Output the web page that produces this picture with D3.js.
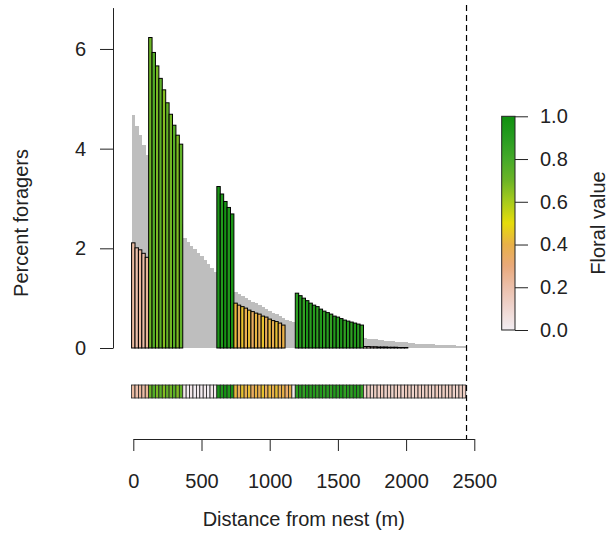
<!DOCTYPE html>
<html>
<head>
<meta charset="utf-8">
<script src="https://cdn.jsdelivr.net/npm/d3@7"></script>
<style>
  html, body { margin: 0; padding: 0; background: #fff; }
  svg { display: block; font-family: "Liberation Sans", Arial, sans-serif; }
  text { fill: #222; }
</style>
</head>
<body>
<svg id="chart" width="610" height="537"></svg>
<script>
// Distance bins (m), 25 m wide, bin centres
const distance = d3.range(0, 2450, 25);

// Percent of foragers visiting each distance bin
const foragers = [
  2.11, 2.01, 1.97, 1.90, 1.82,
  6.23, 5.93, 5.66, 5.41, 5.18, 4.92, 4.69, 4.47, 4.27, 4.09,
  0, 0, 0, 0, 0, 0, 0, 0, 0, 0,
  3.24, 3.09, 2.94, 2.82, 2.69,
  0.90, 0.86, 0.83, 0.80, 0.76, 0.73, 0.70, 0.68, 0.64, 0.62, 0.58, 0.55, 0.53, 0.50, 0.46,
  0, 0, 0,
  1.10, 1.05, 1.00, 0.95, 0.90, 0.86, 0.83, 0.78, 0.74, 0.71, 0.68, 0.64, 0.62, 0.59, 0.56, 0.54, 0.52, 0.50, 0.48, 0.46,
  0.03, 0.03, 0.025, 0.025, 0.02, 0.02, 0.02, 0.015, 0.015, 0.015, 0.01, 0.01, 0.01,
  0, 0, 0, 0, 0, 0, 0, 0, 0, 0, 0, 0, 0, 0, 0, 0, 0
];

// Reference distribution (grey) for the same bins
const reference = [
  4.68, 4.45, 4.27, 4.07, 3.87,
  3.70, 3.55, 3.40, 3.26, 3.12, 2.98, 2.85, 2.72, 2.60, 2.48,
  2.20, 2.12, 2.05, 1.98, 1.91, 1.84, 1.76, 1.68, 1.60, 1.52,
  1.45, 1.38, 1.31, 1.25, 1.19,
  1.13, 1.09, 1.05, 1.01, 0.97, 0.93, 0.90, 0.86, 0.82, 0.79, 0.75, 0.71, 0.68, 0.64, 0.60,
  0.57, 0.55, 0.53,
  0.51, 0.49, 0.47, 0.45, 0.43, 0.41, 0.40, 0.38, 0.36, 0.35, 0.33, 0.32, 0.30, 0.29, 0.28, 0.26, 0.25, 0.24, 0.23, 0.22,
  0.20, 0.19, 0.19, 0.18, 0.17, 0.17, 0.15, 0.14, 0.14, 0.13, 0.13, 0.12, 0.12,
  0.10, 0.10, 0.09, 0.09, 0.09, 0.08, 0.08, 0.08, 0.07, 0.07, 0.07, 0.06, 0.06, 0.06, 0.05, 0.05, 0.05
];

// Floral value of the landscape cell in each bin
const floral = [
  0.22, 0.20, 0.23, 0.21, 0.24,
  0.70, 0.76, 0.68, 0.74, 0.66, 0.72, 0.69, 0.75, 0.67, 0.73,
  0.02, 0.01, 0.03, 0.00, 0.02, 0.01, 0.02, 0.00, 0.03, 0.02,
  0.95, 0.92, 0.97, 0.93, 0.96,
  0.42, 0.36, 0.44, 0.38, 0.43, 0.35, 0.41, 0.37, 0.44, 0.36, 0.42, 0.38, 0.43, 0.37, 0.40,
  0.33, 0.39, 0.02,
  0.88, 0.92, 0.86, 0.94, 0.89, 0.91, 0.87, 0.93, 0.88, 0.90, 0.86, 0.92, 0.89, 0.94, 0.87, 0.91, 0.88, 0.93, 0.90, 0.86,
  0.12, 0.15, 0.11, 0.14, 0.13, 0.16, 0.12, 0.14, 0.11, 0.15, 0.13, 0.12, 0.16,
  0.14, 0.11, 0.13, 0.15, 0.12, 0.14, 0.13, 0.11, 0.16, 0.12, 0.14, 0.13, 0.15, 0.12, 0.11, 0.14, 0.13
];

const maxRange = 2443;               // maximum foraging distance (dashed line)
const xTicks = [0, 500, 1000, 1500, 2000, 2500];
const yTicks = [0, 2, 4, 6];
const legendTicks = [0, 0.2, 0.4, 0.6, 0.8, 1.0];

// Colour ramp for floral value
const rampStops = [0, 0.1, 0.2, 0.3, 0.4, 0.5, 0.6, 0.7, 0.8, 0.9, 1.0];
const rampColors = ["#f3eef3", "#efd6d0", "#ebbfab", "#e9a97a", "#e8b048", "#e6dc0a",
                    "#a8cc1c", "#6cb426", "#45aa2a", "#279c20", "#0f900f"];
const color = d3.scaleLinear().domain(rampStops).range(rampColors).interpolate(d3.interpolateRgb);

const binWidth = 25;
const svg = d3.select("#chart");

const x = d3.scaleLinear().domain([0, 2500]).range([133.3, 474.3]);
const y = d3.scaleLinear().domain([0, 6.83]).range([348, 7.6]);

const bins = distance.map((d, i) => ({ d, f: foragers[i], r: reference[i], v: floral[i] }));
const bw = x(binWidth) - x(0);

// grey reference bars (drawn edge to edge, no outline)
svg.append("g").attr("shape-rendering", "crispEdges")
  .selectAll("rect").data(bins).join("rect")
  .attr("x", b => x(b.d - binWidth / 2))
  .attr("width", bw + 0.4)
  .attr("y", b => y(b.r))
  .attr("height", b => y(0) - y(b.r))
  .attr("fill", "#bebebe");

// forager bars coloured by floral value
svg.append("g").selectAll("rect").data(bins).join("rect")
  .attr("x", b => x(b.d - binWidth / 2))
  .attr("width", bw)
  .attr("y", b => y(b.f))
  .attr("height", b => y(0) - y(b.f))
  .attr("fill", b => color(b.v))
  .attr("stroke", "#000")
  .attr("stroke-width", 1);

// strip of landscape cells
const stripTop = 385, stripH = 13;
svg.append("g").selectAll("rect").data(bins).join("rect")
  .attr("x", b => x(b.d - binWidth / 2))
  .attr("width", bw)
  .attr("y", stripTop)
  .attr("height", stripH)
  .attr("fill", b => color(b.v))
  .attr("stroke", "#222")
  .attr("stroke-width", 0.8);

// y axis
const yAxis = svg.append("g")
  .attr("transform", "translate(113,0)")
  .call(d3.axisLeft(y).tickValues(yTicks).tickFormat(d3.format("d")).tickSize(13).tickSizeOuter(0).tickPadding(14));
yAxis.selectAll("text").style("font-size", "20px");
yAxis.selectAll("path, line").attr("stroke", "#222");

// x axis
const xAxis = svg.append("g")
  .attr("transform", "translate(0,439)")
  .call(d3.axisBottom(x).tickValues(xTicks).tickFormat(d3.format("d")).tickSize(12).tickSizeOuter(0).tickPadding(23));
xAxis.selectAll("text").style("font-size", "20px");
xAxis.selectAll("path, line").attr("stroke", "#222");

// maximum range marker
svg.append("line")
  .attr("x1", x(maxRange)).attr("x2", x(maxRange))
  .attr("y1", 5).attr("y2", 439)
  .attr("stroke", "#000").attr("stroke-width", 1.2)
  .attr("stroke-dasharray", "6,4");

// axis titles
svg.append("text")
  .attr("x", 303.8).attr("y", 526)
  .attr("text-anchor", "middle")
  .style("font-size", "20px")
  .text("Distance from nest (m)");

svg.append("text")
  .attr("transform", "translate(28,223) rotate(-90)")
  .attr("text-anchor", "middle")
  .style("font-size", "20px")
  .text("Percent foragers");

// colour legend
const lx = 501.7, lw = 13.3;
const ly = d3.scaleLinear().domain([0, 1]).range([330, 116.3]);
const grad = svg.append("defs").append("linearGradient")
  .attr("id", "floralRamp").attr("x1", 0).attr("y1", 1).attr("x2", 0).attr("y2", 0);
grad.selectAll("stop").data(d3.range(0, 1.0001, 0.02)).join("stop")
  .attr("offset", d => d)
  .attr("stop-color", d => color(d));

svg.append("rect")
  .attr("x", lx).attr("y", ly(1))
  .attr("width", lw).attr("height", ly(0) - ly(1))
  .attr("fill", "url(#floralRamp)")
  .attr("stroke", "#222").attr("stroke-width", 1);

const lAxis = svg.append("g")
  .attr("transform", `translate(${lx + lw},0)`)
  .call(d3.axisRight(ly).tickValues(legendTicks).tickFormat(d3.format(".1f")).tickSize(13).tickSizeOuter(0).tickPadding(12));
lAxis.select(".domain").remove();
lAxis.selectAll("text").style("font-size", "20px");
lAxis.selectAll("line").attr("stroke", "#222");

svg.append("text")
  .attr("transform", "translate(605,223) rotate(-90)")
  .attr("text-anchor", "middle")
  .style("font-size", "20px")
  .text("Floral value");
</script>
</body>
</html>
